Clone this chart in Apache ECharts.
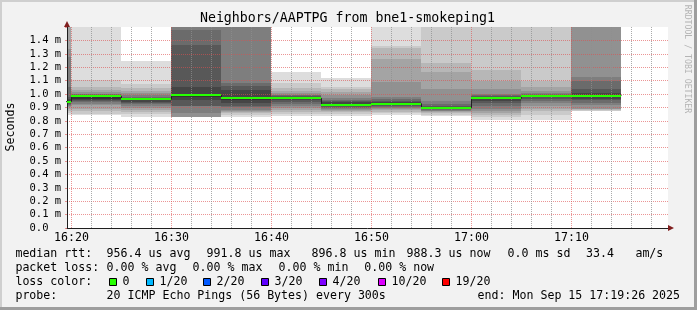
<!DOCTYPE html>
<html><head><meta charset="utf-8">
<script src="https://cdn.jsdelivr.net/npm/echarts@6/dist/echarts.min.js"></script>
<style>html,body{margin:0;padding:0;background:#f2f2f2;}#c{width:697px;height:310px;}</style>
</head><body><div id="c"></div>
<script>
// ---- data (time in minutes after 16:00, values in ms) ----
const segmentStarts = [15, 20, 25, 30, 35, 40, 45, 50, 55, 60, 65, 70];
const segmentLength = 5;
const medians = [0.943, 0.983, 0.960, 0.992, 0.968, 0.968, 0.921, 0.928, 0.897, 0.968, 0.984, 0.988];
const lossIndex = [0, 0, 0, 0, 0, 0, 0, 0, 0, 0, 0, 0];
// 20 sorted ping rtts per 5-minute step
const pings1615 = [0.845, 0.86, 0.875, 0.89, 0.9, 0.91, 0.92, 0.928, 0.935, 0.94, 0.946, 0.96, 0.98, 1.05, 1.276, 1.338, 1.6, 1.7, 1.8, 1.9];
const pings1620 = [0.846, 0.853, 0.873, 0.89, 0.915, 0.928, 0.94, 0.95, 0.957, 0.965, 0.985, 0.99, 0.994, 0.998, 1.003, 1.012, 1.029, 1.054, 1.103, 1.6];
const pings1625 = [0.825, 0.85, 0.865, 0.88, 0.895, 0.91, 0.922, 0.933, 0.943, 0.955, 0.963, 0.968, 0.973, 0.98, 0.99, 1.005, 1.025, 1.045, 1.075, 1.25];
const pings1630 = [0.826, 0.827, 0.828, 0.829, 0.83, 0.858, 0.91, 0.912, 0.955, 0.975, 1.0, 1.05, 1.363, 1.48, 1.6, 1.7, 1.8, 1.9, 2.0, 2.1];
const pings1635 = [0.828, 0.845, 0.858, 0.866, 0.875, 0.883, 0.9, 0.912, 0.935, 0.958, 0.98, 1.027, 1.06, 1.082, 1.6, 1.7, 1.8, 1.9, 2.0, 2.1];
const pings1640 = [0.835, 0.85, 0.865, 0.88, 0.895, 0.91, 0.925, 0.94, 0.955, 0.965, 0.975, 0.98, 0.985, 0.99, 0.995, 1.005, 1.02, 1.045, 1.082, 1.161];
const pings1645 = [0.834, 0.85, 0.866, 0.875, 0.882, 0.89, 0.897, 0.903, 0.908, 0.914, 0.928, 0.938, 0.948, 0.958, 0.97, 0.99, 1.016, 1.035, 1.054, 1.122];
const pings1650 = [0.84, 0.855, 0.868, 0.878, 0.888, 0.897, 0.905, 0.912, 0.918, 0.924, 0.932, 0.94, 0.95, 0.96, 0.975, 1.09, 1.263, 1.34, 1.355, 1.6];
const pings1655 = [0.833, 0.845, 0.855, 0.863, 0.87, 0.876, 0.882, 0.886, 0.89, 0.894, 0.9, 0.906, 0.912, 0.925, 0.945, 1.04, 1.164, 1.23, 1.6, 1.7];
const pings1700 = [0.803, 0.825, 0.84, 0.855, 0.87, 0.89, 0.91, 0.93, 0.95, 0.96, 0.975, 0.98, 0.985, 0.99, 1.0, 1.04, 1.10, 1.18, 1.6, 1.7];
const pings1705 = [0.805, 0.84, 0.87, 0.89, 0.91, 0.93, 0.95, 0.965, 0.975, 0.982, 0.987, 0.99, 0.995, 1.0, 1.01, 1.025, 1.05, 1.10, 1.6, 1.7];
const pings1710 = [0.873, 0.875, 0.878, 0.885, 0.89, 0.915, 0.935, 0.952, 0.962, 0.978, 0.995, 1.01, 1.04, 1.1, 1.127, 1.6, 1.7, 1.8, 1.9, 2.0];
const allPings = [pings1615, pings1620, pings1625, pings1630, pings1635, pings1640, pings1645, pings1650, pings1655, pings1700, pings1705, pings1710];

const xTickValues = [20, 30, 40, 50, 60, 70];
const xTickLabels = ['16:20', '16:30', '16:40', '16:50', '17:00', '17:10'];
const xMinorValues = [22, 24, 26, 28, 32, 34, 36, 38, 42, 44, 46, 48, 52, 54, 56, 58, 62, 64, 66, 68, 72, 74, 76, 78];
const yTickValues = [0, 0.1, 0.2, 0.3, 0.4, 0.5, 0.6, 0.7, 0.8, 0.9, 1.0, 1.1, 1.2, 1.3, 1.4];
const yTickLabels = ['0.0', '0.1 m', '0.2 m', '0.3 m', '0.4 m', '0.5 m', '0.6 m', '0.7 m', '0.8 m', '0.9 m', '1.0 m', '1.1 m', '1.2 m', '1.3 m', '1.4 m'];

const titleText = 'Neighbors/AAPTPG from bne1-smokeping1';
const medianLabel = 'median rtt:';
const medianStats = ['956.4 us avg', '991.8 us max', '896.8 us min', '988.3 us now', '0.0 ms sd', '33.4', 'am/s'];
const lossLabel = 'packet loss:';
const lossStats = ['0.00 % avg', '0.00 % max', '0.00 % min', '0.00 % now'];
const lossColorLabel = 'loss color:';
const lossLabels = ['0', '1/20', '2/20', '3/20', '4/20', '10/20', '19/20'];
const lossColors = ['#26ff00', '#00b8ff', '#0059ff', '#5e00ff', '#7e00ff', '#dd00ff', '#ff0000'];
const probeLabel = 'probe:';
const probeText = '20 ICMP Echo Pings (56 Bytes) every 300s';
const endText = 'end: Mon Sep 15 17:19:26 2025';

// ---- layout / style ----
const GL = 67, GT = 27, GW = 601, GH = 201;
const xMin = 19.55, xMax = 79.65;
const FONT = '"DejaVu Sans Mono", monospace';
const smokeShades = [];
for (let i = 1; i <= 10; i++) { const c = Math.floor(190 / 10 * (10 - i)) + 50; smokeShades.push('rgb(' + c + ',' + c + ',' + c + ')'); }

const smokeData = [];
for (let layer = 0; layer < 10; layer++) {
  allPings.forEach((p, s) => {
    smokeData.push([segmentStarts[s], segmentStarts[s] + segmentLength, p[layer], p[19 - layer], layer]);
  });
}
const medianData = segmentStarts.map((t, s) => [t, t + segmentLength, medians[s], lossIndex[s]]);
const medianLine = segmentStarts.map((t, s) => [t, medians[s]]);
medianLine.push([segmentStarts[segmentStarts.length - 1] + segmentLength, medians[medians.length - 1]]);

function renderSmoke(params, api) {
  const p0 = api.coord([api.value(0), api.value(3)]);
  const p1 = api.coord([api.value(1), api.value(2)]);
  const x0 = Math.floor(p0[0]), x1 = Math.floor(p1[0]);
  const y0 = Math.round(p0[1]), y1 = Math.round(p1[1]);
  const cs = params.coordSys;
  const rect = echarts.graphic.clipRectByRect({x: x0, y: y0, width: x1 - x0, height: Math.max(y1 - y0, 0)},
    {x: cs.x, y: cs.y, width: cs.width, height: cs.height});
  if (!rect) return;
  return {type: 'rect', shape: rect, style: {fill: smokeShades[api.value(4)]}};
}
function renderMedian(params, api) {
  const p0 = api.coord([api.value(0), api.value(2)]);
  const p1 = api.coord([api.value(1), api.value(2)]);
  const x0 = Math.floor(p0[0]), x1 = Math.floor(p1[0]);
  const y = Math.round(p0[1]);
  const cs = params.coordSys;
  const rect = echarts.graphic.clipRectByRect({x: x0, y: y - 1, width: x1 - x0, height: 2},
    {x: cs.x, y: cs.y, width: cs.width, height: cs.height});
  if (!rect) return;
  return {type: 'rect', shape: rect, style: {fill: lossColors[api.value(3)]}};
}

const majorStyle = {color: 'rgba(222,79,79,0.6)', type: [1, 1], width: 1};
const minorStyle = {color: 'rgba(143,143,143,0.75)', type: [1, 1], width: 1};
const gridLines = xMinorValues.map(v => ({xAxis: v, lineStyle: minorStyle}))
  .concat(xTickValues.map(v => ({xAxis: v, lineStyle: majorStyle})));

function txt(text, x, y, size, extra) {
  return Object.assign({type: 'text', x: x, y: y, silent: true, z: 50,
    style: {text: text, x: 0, y: 0, font: size + 'px ' + FONT, fill: '#000',
      textAlign: 'left', align: 'left', textVerticalAlign: 'middle', verticalAlign: 'middle'}}, extra || {});
}
const graphics = [
  {type: 'rect', shape: {x: 0, y: 0, width: 697, height: 2}, style: {fill: '#cfcfcf'}, silent: true},
  {type: 'rect', shape: {x: 0, y: 0, width: 2, height: 310}, style: {fill: '#cfcfcf'}, silent: true},
  {type: 'rect', shape: {x: 0, y: 307, width: 697, height: 3}, style: {fill: '#9e9e9e'}, silent: true},
  {type: 'rect', shape: {x: 694, y: 0, width: 3, height: 310}, style: {fill: '#9e9e9e'}, silent: true},
  {type: 'polygon', shape: {points: [[64, 27], [70, 27], [67, 21]]}, style: {fill: '#801f1f'}, silent: true, z: 60},
  {type: 'polygon', shape: {points: [[668, 225], [668, 231], [674, 228]]}, style: {fill: '#801f1f'}, silent: true, z: 60},
];
const t = txt(titleText, 347.5, 19, 13.25); t.style.textAlign = 'center'; t.style.align = 'center'; graphics.push(t);
const sec = txt('Seconds', 10.5, 127, 11.6, {rotation: Math.PI / 2}); sec.style.textAlign = 'center'; sec.style.align = 'center'; graphics.push(sec);
const rr = txt('RRDTOOL / TOBI OETIKER', 687.5, 59, 8.2, {rotation: -Math.PI / 2}); rr.style.textAlign = 'center'; rr.style.align = 'center'; rr.style.fill = '#b4b4b4'; graphics.push(rr);

const LF = 11.6;
const row1Y = 254, row2Y = 268, row3Y = 282, row4Y = 295.5;
const medianStatX = [106.6, 206.6, 311.6, 406.6, 507.6, 586, 635.4];
const lossStatX = [106.6, 192.6, 278.6, 364.3];
const lossBoxX = [109, 146, 203, 261, 319, 378, 442];
graphics.push(txt(medianLabel, 15.4, row1Y, LF));
medianStats.forEach((s, i) => graphics.push(txt(s, medianStatX[i], row1Y, LF)));
graphics.push(txt(lossLabel, 15.4, row2Y, LF));
lossStats.forEach((s, i) => graphics.push(txt(s, lossStatX[i], row2Y, LF)));
graphics.push(txt(lossColorLabel, 15.4, row3Y, LF));
lossLabels.forEach((s, i) => {
  graphics.push({type: 'rect', shape: {x: lossBoxX[i] + 0.5, y: 278.5, width: 7, height: 7},
    style: {fill: lossColors[i], stroke: '#000', lineWidth: 1}, silent: true, z: 50});
  graphics.push(txt(s, lossBoxX[i] + 13.6, row3Y, LF));
});
graphics.push(txt(probeLabel, 15.4, row4Y, LF));
graphics.push(txt(probeText, 106.6, row4Y, LF));
graphics.push(txt(endText, 477.6, row4Y, LF));

const chart = echarts.init(document.getElementById('c'), null, {renderer: 'canvas', width: 697, height: 310});
chart.setOption({
  animation: false,
  backgroundColor: '#f2f2f2',
  grid: {left: GL, top: GT, width: GW, height: GH, show: true, backgroundColor: '#ffffff', borderWidth: 0, containLabel: false},
  xAxis: {
    type: 'value', min: xMin, max: xMax, z: 3,
    axisLine: {show: true, onZero: false, lineStyle: {color: '#1f1f1f', width: 1}},
    axisTick: {show: false},
    splitLine: {show: false},
    axisLabel: {customValues: xTickValues, formatter: v => { const i = xTickValues.indexOf(v); return i >= 0 ? xTickLabels[i] : ''; },
      fontFamily: FONT, fontSize: 11.6, color: '#000', margin: 4}
  },
  yAxis: {
    type: 'value', min: 0, max: 1.5, interval: 0.1, z: 3,
    axisLine: {show: true, lineStyle: {color: '#1f1f1f', width: 1}},
    axisTick: {show: true, length: 2, lineStyle: {color: 'rgba(222,79,79,0.6)'}},
    axisLabel: {fontFamily: FONT, fontSize: 10.5, color: '#000', margin: 37.5, align: 'left',
      formatter: v => { const i = Math.round(v * 10); return (i < yTickLabels.length) ? yTickLabels[i] : ''; }},
    splitLine: {show: true, showMinLine: false, showMaxLine: false, lineStyle: {color: 'rgba(222,79,79,0.6)', type: [1, 1], width: 1}}
  },
  graphic: graphics,
  series: [
    {type: 'custom', name: 'smoke', renderItem: renderSmoke, data: smokeData, z: 2, silent: true, clip: true},
    {type: 'line', name: 'median-line', data: medianLine, step: 'end', symbol: 'none', z: 6, silent: true,
      lineStyle: {color: '#202020', width: 1},
      markLine: {silent: true, symbol: 'none', z: 4, label: {show: false}, animation: false, data: gridLines}},
    {type: 'custom', name: 'median', renderItem: renderMedian, data: medianData, z: 7, silent: true, clip: true}
  ]
});
</script></body></html>
